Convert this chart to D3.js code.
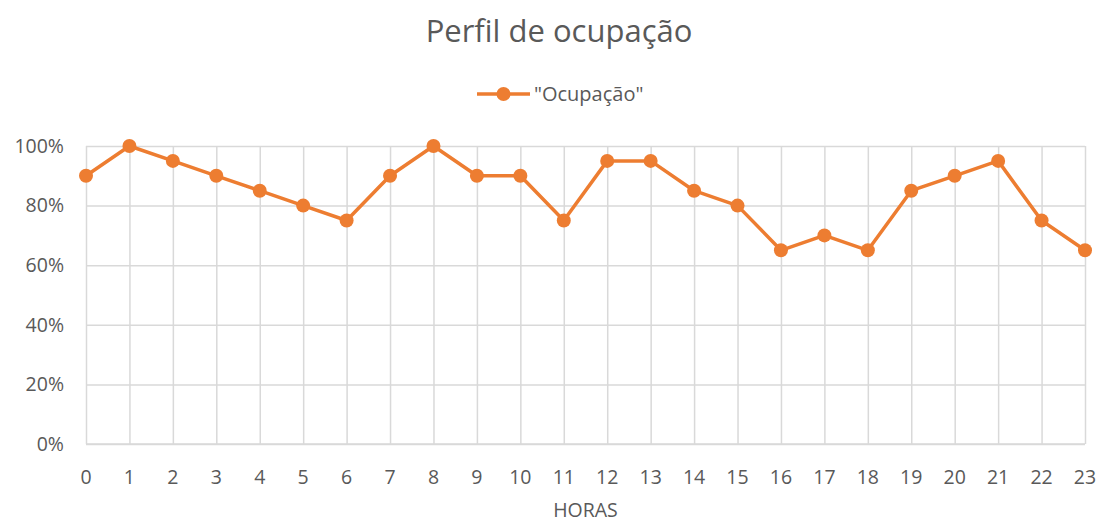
<!DOCTYPE html>
<html>
<head>
<meta charset="utf-8">
<script src="https://cdn.jsdelivr.net/npm/d3@7"></script>
<style>
  body { margin: 0; background: #fff; }
  text { font-family: "Open Sans", "Noto Sans", sans-serif; fill: #595959; }
  .grid line { stroke: #d9d9d9; stroke-width: 1.5; }
</style>
</head>
<body>
<div id="chart"></div>
<script>
const horas = d3.range(0, 24).map(String);
const ocupacao = [90, 100, 95, 90, 85, 80, 75, 90, 100, 90, 90, 75, 95, 95, 85, 80, 65, 70, 65, 85, 90, 95, 75, 65];
const yTicks = [0, 20, 40, 60, 80, 100];
const seriesName = '"Ocupação"';

const W = 1100, H = 523;
const margin = { top: 146, right: 15, bottom: 79, left: 86 };
const w = W - margin.left - margin.right;
const h = H - margin.top - margin.bottom;
const orange = "#ED7D31";

const svg = d3.select("#chart").append("svg")
  .attr("width", W).attr("height", H);

svg.append("text")
  .attr("x", 559).attr("y", 42)
  .attr("text-anchor", "middle")
  .style("font-size", "31px")
  .text("Perfil de ocupação");

// legenda
const lg = svg.append("g").attr("transform", "translate(477,94)");
lg.append("line").attr("x1", 0).attr("x2", 53)
  .attr("stroke", orange).attr("stroke-width", 3.5);
lg.append("circle").attr("cx", 26.5).attr("r", 7).attr("fill", orange);
lg.append("text").attr("x", 57).attr("dy", "0.35em")
  .style("font-size", "20px").text(seriesName);

const g = svg.append("g")
  .attr("transform", `translate(${margin.left},${margin.top})`);

const x = d3.scalePoint().domain(horas).range([0, w]);
const y = d3.scaleLinear().domain([0, 100]).range([h, 0]);

g.append("g").attr("class", "grid")
  .call(d3.axisLeft(y).tickValues(yTicks).tickSize(-w).tickFormat(""))
  .call(s => s.select(".domain").remove());

g.append("g").attr("class", "grid")
  .attr("transform", `translate(0,${h})`)
  .call(d3.axisBottom(x).tickSize(-h).tickFormat(""))
  .call(s => s.select(".domain").remove());

g.append("line").attr("x1", 0).attr("x2", w).attr("y1", h).attr("y2", h)
  .attr("stroke", "#d9d9d9").attr("stroke-width", 1.5);

// rótulos dos eixos
g.selectAll("text.ylab").data(yTicks).enter().append("text")
  .attr("class", "ylab")
  .attr("x", -22).attr("y", d => y(d)).attr("dy", "0.35em")
  .attr("text-anchor", "end")
  .style("font-size", "19.5px")
  .text(d => d + "%");

g.selectAll("text.xlab").data(horas).enter().append("text")
  .attr("class", "xlab")
  .attr("x", d => x(d)).attr("y", h + 40)
  .attr("text-anchor", "middle")
  .style("font-size", "19.5px")
  .text(d => d);

svg.append("text")
  .attr("x", margin.left + w / 2).attr("y", 517)
  .attr("text-anchor", "middle")
  .style("font-size", "19.5px")
  .text("HORAS");

const line = d3.line()
  .x((d, i) => x(horas[i]))
  .y(d => y(d));

g.append("path").datum(ocupacao)
  .attr("d", line)
  .attr("fill", "none")
  .attr("stroke", orange)
  .attr("stroke-width", 3.5)
  .attr("stroke-linejoin", "round");

g.selectAll("circle.pt").data(ocupacao).enter().append("circle")
  .attr("class", "pt")
  .attr("cx", (d, i) => x(horas[i]))
  .attr("cy", d => y(d))
  .attr("r", 7)
  .attr("fill", orange);
</script>
</body>
</html>
